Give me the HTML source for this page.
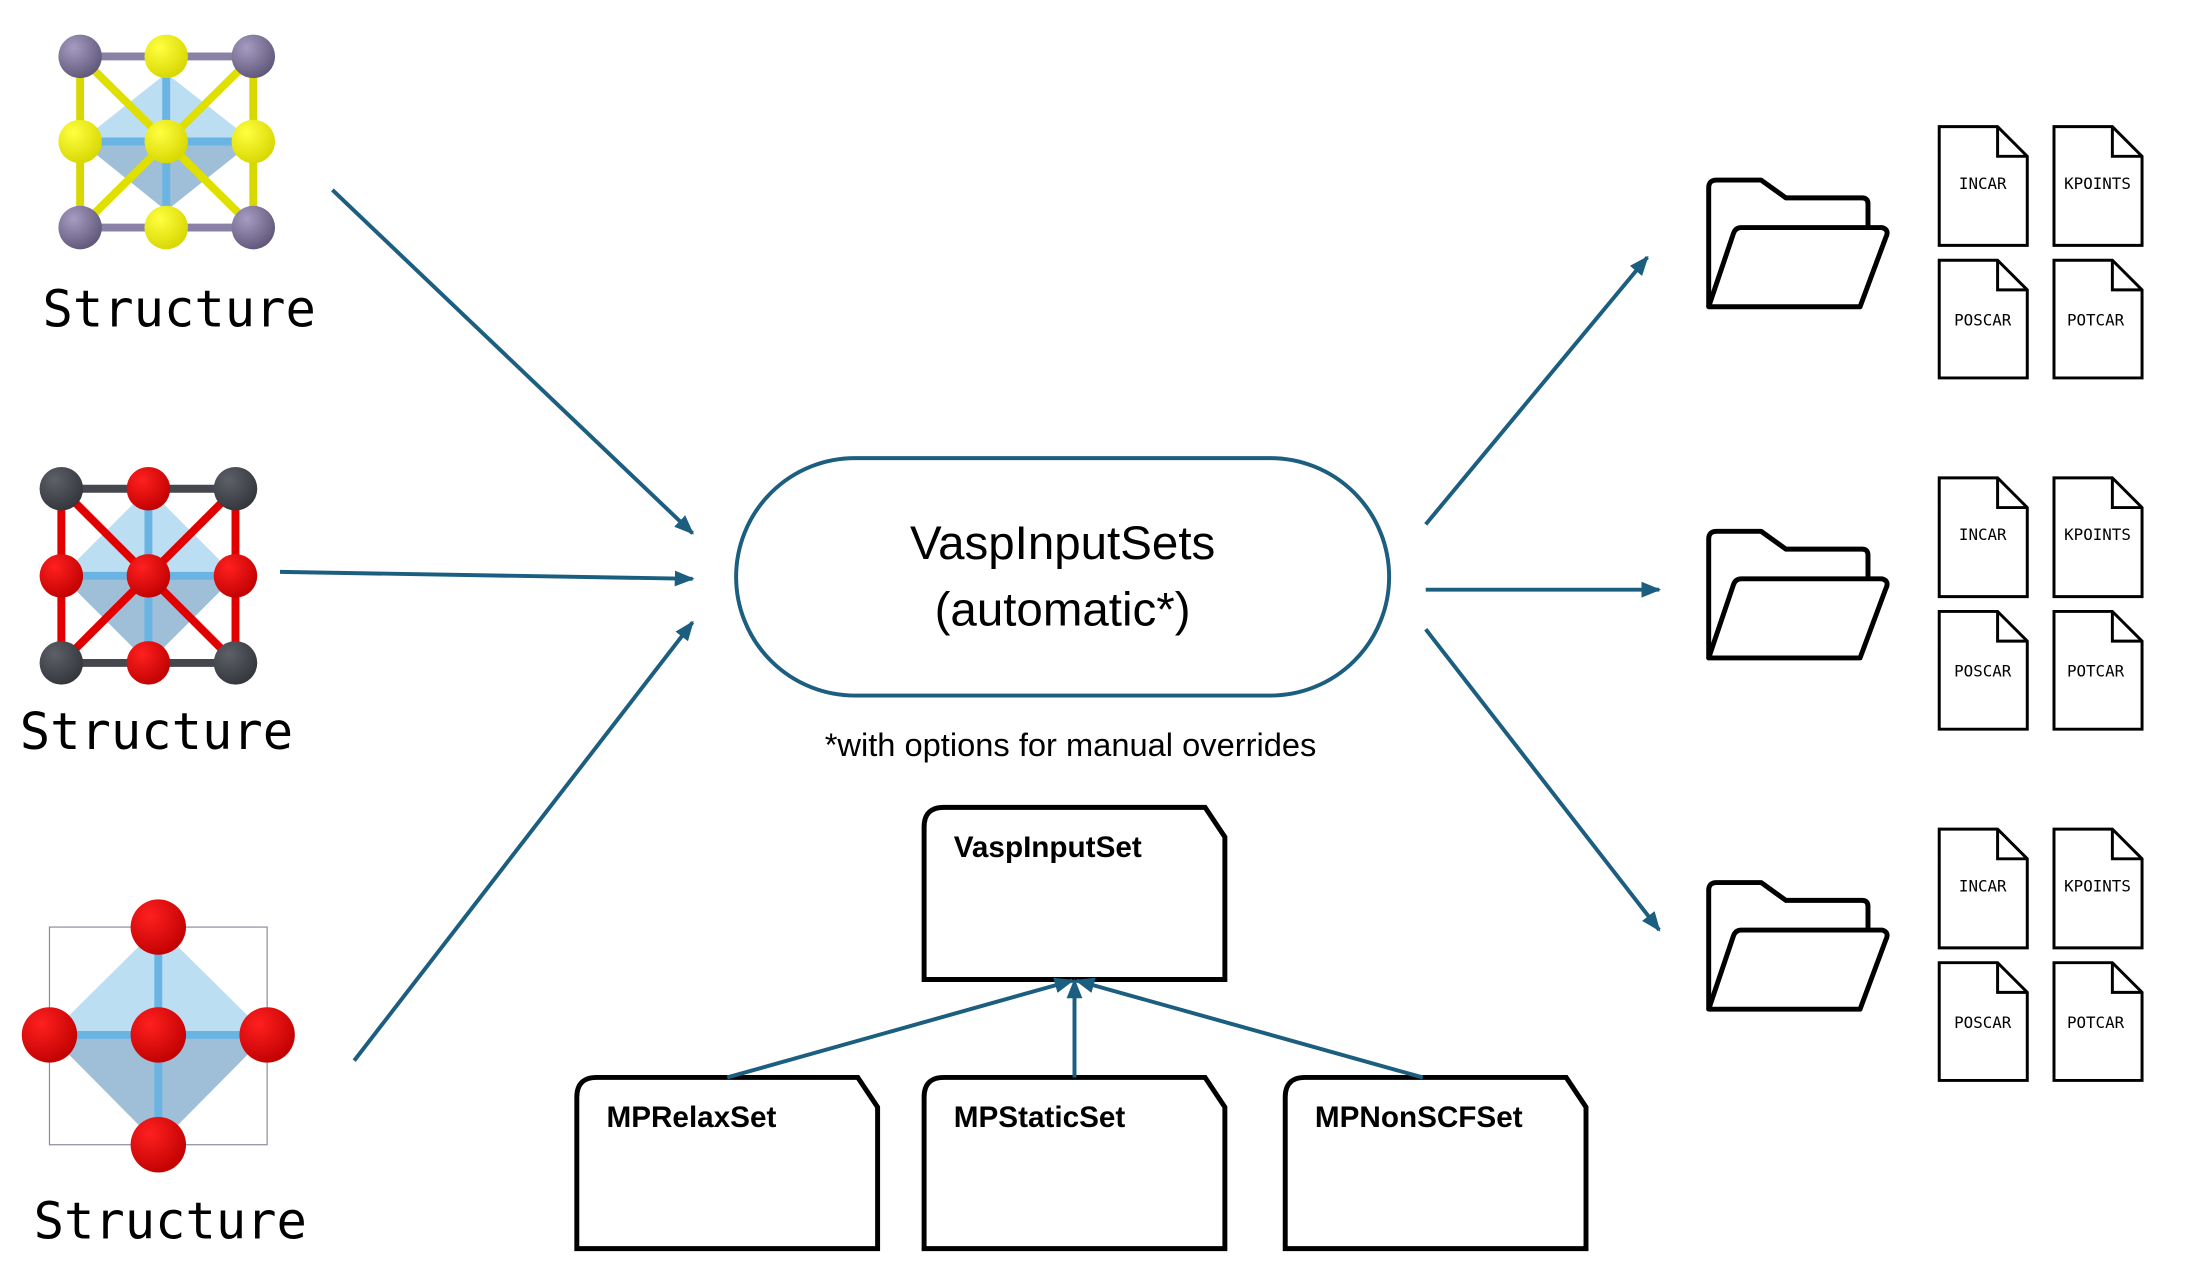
<!DOCTYPE html>
<html><head><meta charset="utf-8"><style>
html,body{margin:0;padding:0;background:#fff;}
svg{display:block;}
</style></head><body>
<svg width="2203" height="1270" viewBox="0 0 2203 1270" xmlns="http://www.w3.org/2000/svg">
<defs>
<radialGradient id="gP" cx="35%" cy="30%" r="75%"><stop offset="0" stop-color="#a69cc2"/><stop offset="1" stop-color="#5e5678"/></radialGradient>
<radialGradient id="gY" cx="35%" cy="30%" r="75%"><stop offset="0" stop-color="#ffff40"/><stop offset="1" stop-color="#d6d600"/></radialGradient>
<radialGradient id="gR" cx="35%" cy="30%" r="75%"><stop offset="0" stop-color="#ff2020"/><stop offset="1" stop-color="#c00000"/></radialGradient>
<radialGradient id="gG" cx="35%" cy="30%" r="75%"><stop offset="0" stop-color="#5d6068"/><stop offset="1" stop-color="#33353b"/></radialGradient>
<marker id="ah2" markerWidth="20" markerHeight="20" refX="18" refY="10" orient="auto" markerUnits="userSpaceOnUse" viewBox="0 0 20 20">
<path d="M0,2 L20,10 L0,18 z" fill="#1b5e7f"/></marker>
</defs>
<g transform="scale(0.9894)">
<!-- Structure 1 -->
<g>
<polygon points="168,74 256,143 168,213 81,143" fill="#9fd0ee" opacity="0.7"/>
<polygon points="81,143 256,143 168,213" fill="#8aaac4" opacity="0.6"/>
<g stroke-width="8" stroke-linecap="round">
<line x1="81" y1="57" x2="256" y2="57" stroke="#8a82a6"/>
<line x1="81" y1="230" x2="256" y2="230" stroke="#8a82a6"/>
<line x1="81" y1="57" x2="81" y2="230" stroke="#d8d800"/>
<line x1="256" y1="57" x2="256" y2="230" stroke="#d8d800"/>
<line x1="81" y1="57" x2="256" y2="230" stroke="#e0e000"/>
<line x1="256" y1="57" x2="81" y2="230" stroke="#e0e000"/>
<line x1="168" y1="57" x2="168" y2="230" stroke="#6ab4e4"/>
<line x1="81" y1="143" x2="256" y2="143" stroke="#6ab4e4"/>
</g>
<circle cx="168" cy="57" r="22" fill="url(#gY)"/><circle cx="168" cy="230" r="22" fill="url(#gY)"/>
<circle cx="81" cy="143" r="22" fill="url(#gY)"/><circle cx="256" cy="143" r="22" fill="url(#gY)"/>
<circle cx="168" cy="143" r="22" fill="url(#gY)"/>
<circle cx="81" cy="57" r="22" fill="url(#gP)"/><circle cx="256" cy="57" r="22" fill="url(#gP)"/>
<circle cx="81" cy="230" r="22" fill="url(#gP)"/><circle cx="256" cy="230" r="22" fill="url(#gP)"/>
</g>
<text x="43" y="330" font-family="'DejaVu Sans Mono','Liberation Mono',monospace" font-size="51">Structure</text>

<!-- Structure 2 -->
<g>
<polygon points="150,494 238,582 150,670 62,582" fill="#9fd0ee" opacity="0.7"/>
<polygon points="62,582 238,582 150,670" fill="#8aaac4" opacity="0.6"/>
<g stroke-width="8">
<line x1="62" y1="494" x2="238" y2="494" stroke="#44474e"/>
<line x1="62" y1="670" x2="238" y2="670" stroke="#44474e"/>
<line x1="62" y1="494" x2="62" y2="670" stroke="#e00000"/>
<line x1="238" y1="494" x2="238" y2="670" stroke="#e00000"/>
<line x1="62" y1="494" x2="238" y2="670" stroke="#e00000"/>
<line x1="238" y1="494" x2="62" y2="670" stroke="#e00000"/>
<line x1="150" y1="494" x2="150" y2="670" stroke="#6ab4e4"/>
<line x1="62" y1="582" x2="238" y2="582" stroke="#6ab4e4"/>
</g>
<circle cx="150" cy="494" r="22" fill="url(#gR)"/><circle cx="150" cy="670" r="22" fill="url(#gR)"/>
<circle cx="62" cy="582" r="22" fill="url(#gR)"/><circle cx="238" cy="582" r="22" fill="url(#gR)"/>
<circle cx="150" cy="582" r="22" fill="url(#gR)"/>
<circle cx="62" cy="494" r="22" fill="url(#gG)"/><circle cx="238" cy="494" r="22" fill="url(#gG)"/>
<circle cx="62" cy="670" r="22" fill="url(#gG)"/><circle cx="238" cy="670" r="22" fill="url(#gG)"/>
</g>
<text x="20" y="757" font-family="'DejaVu Sans Mono','Liberation Mono',monospace" font-size="51">Structure</text>

<!-- Structure 3 -->
<g>
<rect x="50" y="937" width="220" height="220" fill="none" stroke="#8a8a9a" stroke-width="1.2"/>
<polygon points="160,937 270,1046 160,1157 50,1046" fill="#9fd0ee" opacity="0.7"/>
<polygon points="50,1046 270,1046 160,1157" fill="#8aaac4" opacity="0.6"/>
<g stroke-width="8">
<line x1="160" y1="937" x2="160" y2="1157" stroke="#6ab4e4"/>
<line x1="50" y1="1046" x2="270" y2="1046" stroke="#6ab4e4"/>
</g>
<circle cx="160" cy="937" r="28" fill="url(#gR)"/><circle cx="160" cy="1157" r="28" fill="url(#gR)"/>
<circle cx="50" cy="1046" r="28" fill="url(#gR)"/><circle cx="270" cy="1046" r="28" fill="url(#gR)"/>
<circle cx="160" cy="1046" r="28" fill="url(#gR)"/>
</g>
<text x="34" y="1252" font-family="'DejaVu Sans Mono','Liberation Mono',monospace" font-size="51">Structure</text>

<g stroke="#1b5e7f" stroke-width="4" fill="none">
<line x1="336" y1="192" x2="700" y2="539" marker-end="url(#ah2)"/>
<line x1="283" y1="578" x2="700" y2="585" marker-end="url(#ah2)"/>
<line x1="358" y1="1072" x2="700" y2="629" marker-end="url(#ah2)"/>
<line x1="1441" y1="530" x2="1665" y2="260" marker-end="url(#ah2)"/>
<line x1="1441" y1="596" x2="1677" y2="596" marker-end="url(#ah2)"/>
<line x1="1441" y1="636" x2="1677" y2="940" marker-end="url(#ah2)"/>
</g>

<rect x="744" y="463" width="660" height="240" rx="120" ry="120" fill="#fff" stroke="#1b5e7f" stroke-width="4"/>
<text x="1074" y="565" text-anchor="middle" font-family="'Liberation Sans',sans-serif" font-size="48">VaspInputSets</text>
<text x="1074" y="632" text-anchor="middle" font-family="'Liberation Sans',sans-serif" font-size="48">(automatic*)</text>
<text x="1082" y="764" text-anchor="middle" font-family="'Liberation Sans',sans-serif" font-size="33">*with options for manual overrides</text>

<g fill="#fff" stroke="#000" stroke-width="5">
<path d="M954,816 L1218,816 L1238,846 L1238,990 L934,990 L934,836 Q934,816 954,816 Z"/>
<path d="M603,1089 L867,1089 L887,1119 L887,1262 L583,1262 L583,1109 Q583,1089 603,1089 Z"/>
<path d="M954,1089 L1218,1089 L1238,1119 L1238,1262 L934,1262 L934,1109 Q934,1089 954,1089 Z"/>
<path d="M1319,1089 L1583,1089 L1603,1119 L1603,1262 L1299,1262 L1299,1109 Q1299,1089 1319,1089 Z"/>
</g>
<g font-family="'Liberation Sans',sans-serif" font-weight="bold" font-size="30">
<text x="964" y="866">VaspInputSet</text>
<text x="613" y="1139">MPRelaxSet</text>
<text x="964" y="1139">MPStaticSet</text>
<text x="1329" y="1139">MPNonSCFSet</text>
</g>
<g stroke="#1b5e7f" stroke-width="4" fill="none">
<line x1="735" y1="1089" x2="1084" y2="991" marker-end="url(#ah2)"/>
<line x1="1086" y1="1089" x2="1086" y2="991" marker-end="url(#ah2)"/>
<line x1="1438" y1="1089" x2="1088" y2="991" marker-end="url(#ah2)"/>
</g>

<g id="grp">
<g fill="none" stroke="#000" stroke-width="5" stroke-linejoin="round">
<path d="M1727,310 L1727,190 Q1727,182 1735,182 L1780,182 L1805,200 L1882,200 Q1888,200 1888,206 L1888,230"/>
<path d="M1727,310 L1752,236 Q1754,230 1760,230 L1902,230 Q1910,232 1906,240 L1880,310 Z"/>
</g>
<g fill="#fff" stroke="#000" stroke-width="3">
<path d="M1960,128 L2019,128 L2049,158 L2049,248 L1960,248 Z"/><path d="M2019,128 L2019,158 L2049,158" fill="none"/>
<path d="M2076,128 L2135,128 L2165,158 L2165,248 L2076,248 Z"/><path d="M2135,128 L2135,158 L2165,158" fill="none"/>
<path d="M1960,263 L2019,263 L2049,293 L2049,382 L1960,382 Z"/><path d="M2019,263 L2019,293 L2049,293" fill="none"/>
<path d="M2076,263 L2135,263 L2165,293 L2165,382 L2076,382 Z"/><path d="M2135,263 L2135,293 L2165,293" fill="none"/>
</g>
<g font-family="'DejaVu Sans Mono','Liberation Mono',monospace" font-size="16" text-anchor="middle">
<text x="2004" y="191">INCAR</text><text x="2120" y="191">KPOINTS</text>
<text x="2004" y="329">POSCAR</text><text x="2118" y="329">POTCAR</text>
</g>
</g>
<use href="#grp" y="355"/>
<use href="#grp" y="710"/>
</g>
</svg>
</body></html>
